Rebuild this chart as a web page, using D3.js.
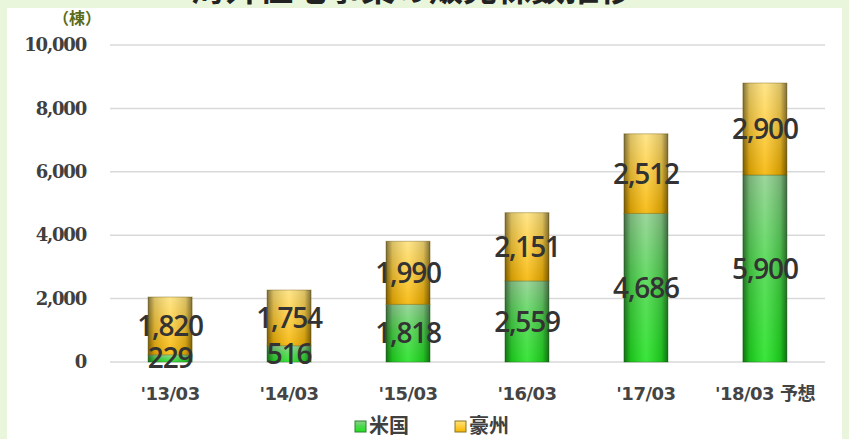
<!DOCTYPE html>
<html>
<head>
<meta charset="utf-8">
<script src="https://cdn.jsdelivr.net/npm/d3@7"></script>
<style>
  body { margin: 0; background: #eaf6dc; }
  svg { display: block; }
</style>
</head>
<body>
<div id="chart"></div>
<script>
// data
const periods = ["'13/03", "'14/03", "'15/03", "'16/03", "'17/03", "'18/03 予想"];
const usa = [229, 516, 1818, 2559, 4686, 5900];
const aus = [1820, 1754, 1990, 2151, 2512, 2900];
const seriesNames = ["米国", "豪州"];
const yTicks = [0, 2000, 4000, 6000, 8000, 10000];

const W = 849, H = 439;
const M = { left: 110, right: 24, top: 45, bottom: 77 };

const svg = d3.select("#chart").append("svg")
    .attr("width", W)
    .attr("height", H);

const defs = svg.append("defs");

// horizontal shading (dark edges) and vertical tint
const makeGrad = (id, stops, vertical) => {
    const g = defs.append("linearGradient").attr("id", id)
        .attr("x1", 0).attr("y1", 0)
        .attr("x2", vertical ? 0 : 1).attr("y2", vertical ? 1 : 0);
    stops.forEach(s => g.append("stop").attr("offset", s[0]).attr("stop-color", s[1]).attr("stop-opacity", s[2] === undefined ? 1 : s[2]));
};
makeGrad("gGreen", [[0, "#8fd08f"], [0.45, "#4fd84f"], [1, "#1fe21f"]], true);
makeGrad("gGold", [[0, "#ffe27a"], [0.5, "#ffcd3a"], [1, "#f5b400"]], true);
makeGrad("shade", [[0, "#000", 0.5], [0.15, "#000", 0.15], [0.5, "#fff", 0.12], [0.85, "#000", 0.15], [1, "#000", 0.5]], false);

// white plot panel
svg.append("rect")
    .attr("x", 7).attr("y", 8)
    .attr("width", W - 14).attr("height", H - 8)
    .attr("fill", "#fff");

// title, clipped by the top of the picture
svg.append("text")
    .attr("x", 412).attr("y", 1)
    .attr("text-anchor", "middle")
    .attr("font-family", "Noto Sans CJK JP")
    .attr("font-weight", "bold")
    .attr("font-size", 34)
    .attr("fill", "#222")
    .text("海外住宅事業の販売棟数推移");

const x = d3.scaleBand()
    .domain(periods)
    .range([M.left, W - M.right])
    .paddingInner(0.63)
    .paddingOuter(0.32);

const y = d3.scaleLinear()
    .domain([0, 10000])
    .range([H - M.bottom, M.top]);

// grid lines
svg.append("g").selectAll("line")
    .data(yTicks)
    .join("line")
    .attr("x1", M.left).attr("x2", W - M.right)
    .attr("y1", d => y(d)).attr("y2", d => y(d))
    .attr("stroke", "#d9d9d9")
    .attr("stroke-width", 1.5);

// y axis
const yAxis = svg.append("g")
    .attr("transform", `translate(${M.left - 21},0)`)
    .call(d3.axisLeft(y).tickValues(yTicks).tickSize(0).tickFormat(d3.format(",")));
yAxis.select(".domain").remove();
yAxis.selectAll("text")
    .attr("font-family", "DejaVu Serif")
    .attr("font-weight", "bold")
    .attr("font-size", 18)
    .attr("fill", "#404040")
    .attr("letter-spacing", -1.2);

svg.append("text")
    .attr("x", 77).attr("y", 24)
    .attr("text-anchor", "middle")
    .attr("font-family", "Noto Sans CJK JP")
    .attr("font-weight", "bold")
    .attr("font-size", 16)
    .attr("fill", "#5b6b1c")
    .text("（棟）");

// x axis
const xAxis = svg.append("g")
    .attr("transform", `translate(0,${H - M.bottom + 17})`)
    .call(d3.axisBottom(x).tickSize(0));
xAxis.select(".domain").remove();
xAxis.selectAll("text")
    .attr("dy", "1em")
    .attr("font-family", "DejaVu Sans, Noto Sans CJK JP")
    .attr("font-weight", "bold")
    .attr("font-size", 18)
    .attr("fill", "#444")
    .attr("letter-spacing", -0.5);

// stacked bars
const rows = periods.map((p, i) => ({ period: p, usa: usa[i], aus: aus[i] }));
const stacked = d3.stack().keys(["usa", "aus"])(rows);
const fills = ["url(#gGreen)", "url(#gGold)"];
const edges = ["#2f7f2f", "#8a7420"];

stacked.forEach((layer, k) => {
    const g = svg.append("g");
    const bars = g.selectAll("g").data(layer).join("g");
    bars.append("rect")
        .attr("x", d => x(d.data.period))
        .attr("y", d => y(d[1]))
        .attr("width", x.bandwidth())
        .attr("height", d => y(d[0]) - y(d[1]))
        .attr("fill", fills[k])
        .attr("stroke", edges[k])
        .attr("stroke-opacity", 0.5);
    bars.append("rect")
        .attr("x", d => x(d.data.period))
        .attr("y", d => y(d[1]))
        .attr("width", x.bandwidth())
        .attr("height", d => y(d[0]) - y(d[1]))
        .attr("fill", "url(#shade)");
});

// value labels
stacked.forEach(layer => {
    svg.append("g").selectAll("text")
        .data(layer)
        .join("text")
        .attr("x", d => x(d.data.period) + x.bandwidth() / 2)
        .attr("y", d => (y(d[0]) + y(d[1])) / 2)
        .attr("dy", "0.36em")
        .attr("text-anchor", "middle")
        .attr("font-family", "Open Sans")
        .attr("font-weight", 600)
        .attr("font-size", 28)
        .attr("fill", "#333")
        .attr("letter-spacing", -1.2)
        .text(d => d3.format(",")(d[1] - d[0]));
});

// legend
const legendX = [355, 455];
seriesNames.forEach((name, k) => {
    const lg = svg.append("g").attr("transform", `translate(${legendX[k]},${H - 13})`);
    lg.append("rect")
        .attr("x", 0).attr("y", -5)
        .attr("width", 11).attr("height", 11)
        .attr("fill", fills[k])
        .attr("stroke", edges[k]);
    lg.append("text")
        .attr("x", 14).attr("y", 0)
        .attr("dy", "0.36em")
        .attr("font-family", "Noto Sans CJK JP")
        .attr("font-weight", "bold")
        .attr("font-size", 20)
        .attr("fill", "#404040")
        .text(name);
});
</script>
</body>
</html>
